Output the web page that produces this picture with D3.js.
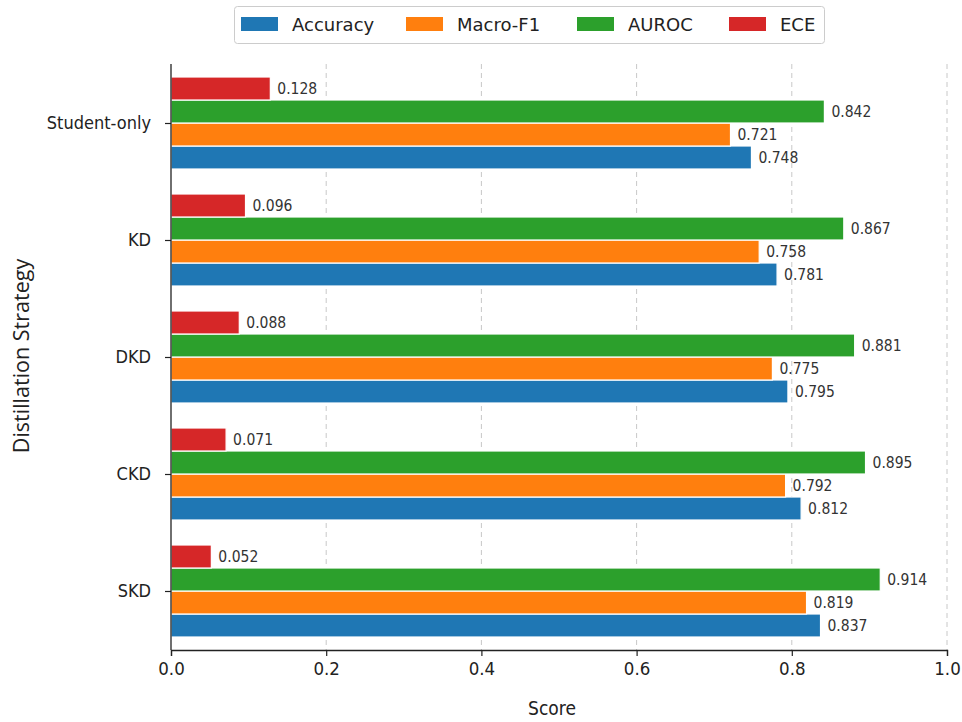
<!DOCTYPE html>
<html><head><meta charset="utf-8">
<script src="https://cdn.jsdelivr.net/npm/d3@7"></script>
<style>body{margin:0;background:#fff}</style>
</head><body>
<script>
const categories = ["Student-only","KD","DKD","CKD","SKD"];
const seriesNames = ["Accuracy","Macro-F1","AUROC","ECE"];
const accuracy = [0.748,0.781,0.795,0.812,0.837];
const macroF1 = [0.721,0.758,0.775,0.792,0.819];
const auroc = [0.842,0.867,0.881,0.895,0.914];
const ece = [0.128,0.096,0.088,0.071,0.052];
const xTicks = [0.0,0.2,0.4,0.6,0.8,1.0];
const colors = ["#1f77b4","#ff7f0e","#2ca02c","#d62728"];
const seriesValues = [accuracy, macroF1, auroc, ece];

const W=962,H=722;
const svg=d3.select("body").append("svg").attr("width",W).attr("height",H);
const font="DejaVu Sans";
const cfont="DejaVu Sans Condensed";
const x=d3.scaleLinear().domain([0,1]).range([171,947]);
const y=d3.scalePoint().domain(categories).range([123,591]);
const off=d3.scaleLinear().domain([0,3]).range([34.5,-34.5]);
const barH=23;

svg.append("g").selectAll("line").data(xTicks.filter(d=>d>0)).join("line")
  .attr("x1",d=>x(d)).attr("x2",d=>x(d)).attr("y1",64).attr("y2",650)
  .attr("stroke","#c8c8c8").attr("stroke-width",1).attr("stroke-dasharray","5,4");

seriesValues.forEach((vals,si)=>{
  const g=svg.append("g");
  g.selectAll("rect").data(vals).join("rect")
    .attr("x",x(0)).attr("y",(d,i)=>y(categories[i])+off(si)-barH/2)
    .attr("width",d=>x(d)-x(0)).attr("height",barH)
    .attr("fill",colors[si]).attr("stroke","#fff").attr("stroke-width",1.2);
  g.selectAll("text").data(vals).join("text")
    .attr("x",d=>x(d)+7).attr("y",(d,i)=>y(categories[i])+off(si))
    .attr("dy","0.36em").attr("font-family",cfont).attr("font-size",15.5)
    .attr("fill","#333").text(d=>d3.format(".3f")(d));
});

const xa=svg.append("g").attr("transform","translate(0,650)")
  .call(d3.axisBottom(x).tickValues(xTicks).tickFormat(d3.format(".1f")).tickSize(6).tickPadding(6));
xa.select(".domain").attr("stroke","#222").attr("stroke-width",1.3);
xa.selectAll(".tick line").attr("stroke","#222").attr("stroke-width",1.2);
xa.selectAll("text").attr("font-family",cfont).attr("font-size",18.5).attr("fill","#222");

const ya=svg.append("g").attr("transform","translate(171,0)")
  .call(d3.axisLeft(y).tickSize(6).tickPadding(14));
ya.select(".domain").attr("d","M0,64V650").attr("stroke","#222").attr("stroke-width",1.3);
ya.selectAll(".tick line").attr("stroke","#222").attr("stroke-width",1.2);
ya.selectAll("text").attr("font-family",cfont).attr("font-size",18).attr("fill","#222");

svg.append("text").attr("x",552).attr("y",715).attr("text-anchor","middle")
  .attr("font-family",cfont).attr("font-size",19).attr("fill","#222").text("Score");
svg.append("text").attr("transform","translate(29,356) rotate(-90)").attr("text-anchor","middle")
  .attr("font-family","Open Sans").attr("font-size",21.5).attr("fill","#222").text("Distillation Strategy");

const lg=svg.append("g");
lg.append("rect").attr("x",234.5).attr("y",6.5).attr("width",590).attr("height",37).attr("rx",3)
  .attr("fill","#fff").attr("stroke","#ccc").attr("stroke-width",1);
const lx=[241,406,577,729];
seriesNames.forEach((n,i)=>{
  lg.append("rect").attr("x",lx[i]).attr("y",17).attr("width",37).attr("height",14).attr("fill",colors[i]);
  lg.append("text").attr("x",lx[i]+51).attr("y",24.5).attr("dy","0.36em")
    .attr("font-family",font).attr("font-size",18).attr("fill","#222").text(n);
});
</script>
</body></html>
